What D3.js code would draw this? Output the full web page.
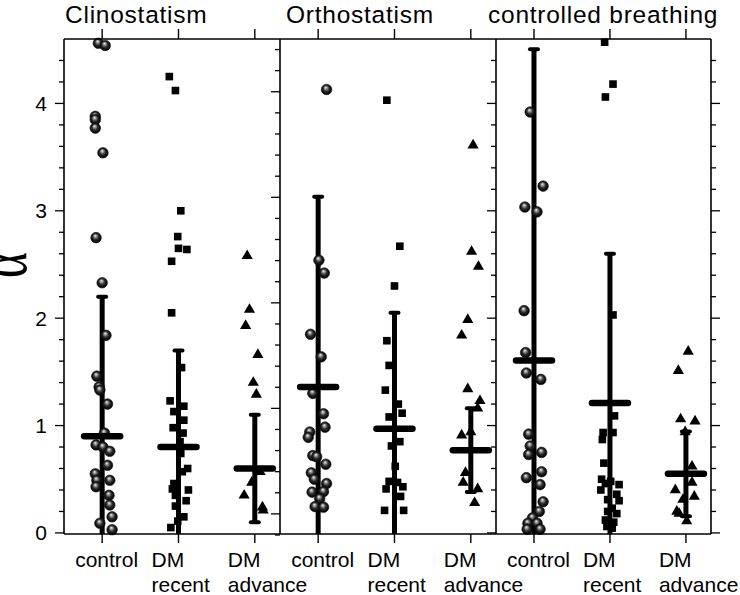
<!DOCTYPE html>
<html><head><meta charset="utf-8">
<script src="https://cdn.jsdelivr.net/npm/d3@7"></script>
<style>body{margin:0;background:#fff}svg{display:block}</style>
</head><body><svg id="c" width="740" height="595"></svg>
<script>
const panelTitles = ["Clinostatism", "Orthostatism", "controlled breathing"];
const categories = [["control"], ["DM", "recent"], ["DM", "advance"]];
const yTickLabels = [0, 1, 2, 3, 4];

// values (alpha) per group, and horizontal jitter in category units
const clinoValues = [
  [4.56,4.54,3.88,3.85,3.77,3.54,2.75,2.33,1.84,1.46,1.36,1.33,1.20,0.93,0.82,0.80,0.76,0.63,0.55,0.49,0.49,0.43,0.35,0.26,0.15,0.09,0.03],
  [4.25,4.12,3.00,2.76,2.65,2.64,2.53,2.05,1.54,1.23,1.18,1.13,1.05,0.98,0.93,0.85,0.74,0.60,0.57,0.46,0.41,0.40,0.35,0.30,0.25,0.15,0.11,0.05],
  [2.58,2.08,1.93,1.66,1.40,1.29,0.57,0.47,0.35,0.24,0.21]
];
const clinoJitter = [
  [-0.05,0.04,-0.09,-0.09,-0.09,0.01,-0.08,0,0.05,-0.07,-0.04,-0.03,0.07,0.03,-0.08,0.01,0.1,0.07,-0.09,-0.07,0.1,-0.08,0.09,0.1,0.13,-0.03,0.13],
  [-0.12,-0.04,0.03,-0.01,0,0.11,-0.09,-0.09,0.04,-0.11,0.07,-0.06,0.07,-0.07,0.06,0.02,0.03,0.12,0.05,-0.06,-0.08,0.13,-0.04,0.1,-0.04,0.07,-0.01,-0.1],
  [-0.1,-0.07,-0.12,0.04,-0.02,0.02,0.07,-0.04,-0.14,0.1,0.11]
];
const orthoValues = [
  [4.13,2.54,2.42,1.85,1.64,1.30,1.11,0.985,0.94,0.89,0.72,0.71,0.64,0.56,0.50,0.46,0.38,0.385,0.32,0.245,0.24],
  [4.03,2.67,2.30,1.79,1.56,1.33,1.20,1.115,1.08,0.85,0.81,0.62,0.48,0.47,0.43,0.41,0.34,0.21,0.21],
  [3.61,2.62,2.48,1.985,1.84,1.34,1.23,1.16,0.94,0.91,0.56,0.47,0.41,0.28]
];
const orthoJitter = [
  [0.11,0.01,0.08,-0.1,0.04,-0.07,0.07,0.09,-0.11,-0.13,-0.07,-0.02,0.1,-0.09,-0.05,0.11,-0.08,0.07,0.02,-0.04,0.07],
  [-0.1,0.07,0,-0.1,-0.07,-0.12,0.05,0.1,-0.07,0.07,-0.04,0.01,-0.07,0.04,0.11,-0.11,0.08,-0.13,0.12],
  [0.03,0.01,0.1,-0.04,-0.12,-0.04,0.12,0.09,0,-0.12,-0.07,-0.1,0.09,0.05]
];
const breathValues = [
  [3.92,3.23,3.035,2.99,2.07,1.68,1.49,1.43,0.92,0.81,0.75,0.73,0.57,0.515,0.45,0.29,0.20,0.14,0.09,0.09,0.035,0.035],
  [4.57,4.18,4.06,2.03,1.09,0.935,0.935,0.87,0.65,0.50,0.48,0.45,0.46,0.40,0.36,0.31,0.30,0.23,0.20,0.18,0.12,0.10,0.045,0.06],
  [1.69,1.51,1.06,1.04,0.94,0.62,0.47,0.40,0.34,0.31,0.20,0.18,0.11]
];
const breathJitter = [
  [-0.05,0.12,-0.12,0.04,-0.13,-0.11,-0.1,0.09,-0.07,-0.05,0.1,-0.07,0.1,-0.1,0.08,0.12,0.07,-0.02,-0.08,0.04,-0.09,0.08],
  [-0.07,0.04,-0.06,0.04,0.06,0.04,-0.09,-0.1,-0.08,-0.11,0.01,0.12,-0.06,-0.12,0.09,-0.03,0.12,0.03,-0.03,0.09,-0.06,0.05,0.03,-0.04],
  [0.03,-0.1,-0.07,0.12,-0.01,0.08,0.08,-0.14,0.11,-0.04,-0.12,-0.09,0.01]
];
const groupMeans = [[0.90,0.80,0.60],[1.36,0.97,0.77],[1.605,1.21,0.55]];
const groupSDs   = [[1.30,0.90,0.50],[1.77,1.08,0.39],[2.90,1.39,0.395]];

const panelValues = [clinoValues, orthoValues, breathValues];
const panelJitter = [clinoJitter, orthoJitter, breathJitter];

const svg = d3.select("#c");
const font = "'Liberation Sans', Arial, Helvetica, sans-serif";
const panelEdges = [64, 280, 496, 711];
const plotTop = 39, plotBottom = 534;
const y = d3.scaleLinear().domain([-0.01, 4.6]).range([plotBottom, plotTop]);
const yAlt = d3.scaleLinear().domain([-0.2, 4.5]).range([535, plotTop]);

// sphere gradient
const defs = svg.append("defs");
const g = defs.append("radialGradient").attr("id","sph").attr("cx","50%").attr("cy","50%").attr("r","55%").attr("fx","42%").attr("fy","30%");
[[0,"#f4f4f4"],[0.22,"#9a9a9a"],[0.5,"#303030"],[0.8,"#0a0a0a"],[1,"#000"]].forEach(s=>g.append("stop").attr("offset",s[0]).attr("stop-color",s[1]));

const minorTicks = d3.range(0, 4.61, 0.2).map(v => Math.round(v*10)/10).filter(v => y(v) > plotTop + 2);

function yTicks(x, dir, scale, vals) {
  const gg = svg.append("g");
  vals.forEach(v => {
    const major = Math.abs(v - Math.round(v)) < 1e-6;
    const len = major ? 9 : 5;
    gg.append("line").attr("x1", x).attr("x2", x + dir*len)
      .attr("y1", scale(v)).attr("y2", scale(v))
      .attr("stroke","#000").attr("stroke-width",1.3);
  });
}

panelTitles.forEach((title, p) => {
  const L = panelEdges[p], R = panelEdges[p+1];
  const x = d3.scaleLinear().domain([0.5, 3.33]).range([L, R]);
  const layer = svg.append("g");

  const eb = layer.append("g");
  const pts = layer.append("g");
  const mb = layer.append("g");
  categories.forEach((cat, i) => {
    const cx = x(i+1);
    const m = groupMeans[p][i], sd = groupSDs[p][i];
    const hi = m + sd, lo = Math.max(0, m - sd);
    eb.append("line").attr("x1",cx).attr("x2",cx).attr("y1",y(hi)).attr("y2", m - sd < 0 ? plotBottom : y(lo))
      .attr("stroke","#000").attr("stroke-width",5);
    eb.append("line").attr("x1",cx-4).attr("x2",cx+4).attr("y1",y(hi)).attr("y2",y(hi))
      .attr("stroke","#000").attr("stroke-width",4).attr("stroke-linecap","round");
    if (m - sd >= 0) {
      eb.append("line").attr("x1",cx-4).attr("x2",cx+4).attr("y1",y(lo)).attr("y2",y(lo))
        .attr("stroke","#000").attr("stroke-width",4).attr("stroke-linecap","round");
    }
    mb.append("line").attr("x1",cx-18).attr("x2",cx+18).attr("y1",y(m)).attr("y2",y(m))
      .attr("stroke","#000").attr("stroke-width",6.5).attr("stroke-linecap","round");

    const vals = panelValues[p][i], jit = panelJitter[p][i];
    vals.forEach((v, k) => {
      const px = x(i + 1 + jit[k]), py = y(v);
      if (i === 0) {
        pts.append("circle").attr("cx",px).attr("cy",py).attr("r",5.3)
          .attr("fill","url(#sph)").attr("stroke","#111").attr("stroke-width",0.6);
      } else if (i === 1) {
        pts.append("path").attr("d", d3.symbol(d3.symbolSquare, 58)()).attr("transform",`translate(${px},${py})`).attr("fill","#000");
      } else {
        pts.append("path").attr("d", d3.symbol(d3.symbolTriangle, 54)()).attr("transform",`translate(${px},${py})`).attr("fill","#000");
      }
    });

    svg.append("line").attr("x1",cx).attr("x2",cx).attr("y1",plotTop).attr("y2",plotTop-10).attr("stroke","#000").attr("stroke-width",1.4);
    svg.append("line").attr("x1",cx).attr("x2",cx).attr("y1",plotBottom).attr("y2",plotBottom+9).attr("stroke","#000").attr("stroke-width",1.4);
    const t = svg.append("text").attr("x", cx - 27).attr("y", 567)
      .attr("font-family", font).attr("font-size", 21).attr("fill","#000");
    cat.forEach((line, li) => {
      t.append("tspan").attr("x", cx - 27).attr("dy", li === 0 ? 0 : 25).text(line);
    });
  });

  const titleX = [65, 286, 488][p];
  svg.append("text").attr("x", titleX).attr("y", 23).attr("font-family", font)
    .attr("font-size", 24.5).attr("letter-spacing", 0.75).attr("fill","#000").text(title);
});

// frames
svg.append("line").attr("x1",panelEdges[0]).attr("x2",panelEdges[3]).attr("y1",plotTop).attr("y2",plotTop).attr("stroke","#000").attr("stroke-width",1.6);
svg.append("line").attr("x1",panelEdges[0]).attr("x2",panelEdges[3]).attr("y1",plotBottom).attr("y2",plotBottom).attr("stroke","#000").attr("stroke-width",1.6);
panelEdges.forEach(e => svg.append("line").attr("x1",e).attr("x2",e).attr("y1",plotTop).attr("y2",plotBottom).attr("stroke","#000").attr("stroke-width",1.6));

// y ticks
yTicks(panelEdges[0], -1, y, minorTicks);
yTicks(panelEdges[1], -1, yAlt, d3.range(-0.2, 4.41, 0.2).map(v => Math.round(v*10)/10));
yTicks(panelEdges[2], -1, y, minorTicks);
yTicks(panelEdges[3], 1, y, minorTicks);

yTickLabels.forEach(v => {
  svg.append("text").attr("x", 47).attr("y", y(v)).attr("dy","0.36em").attr("text-anchor","end")
    .attr("font-family", font).attr("font-size", 21).attr("fill","#000").text(v);
});

svg.append("text").attr("transform","translate(26,265) rotate(-90) scale(0.88,1.3)").attr("text-anchor","middle")
  .attr("font-family","'Liberation Serif', 'Times New Roman', serif").attr("font-size",56).attr("fill","#000").text("α");
</script></body></html>
